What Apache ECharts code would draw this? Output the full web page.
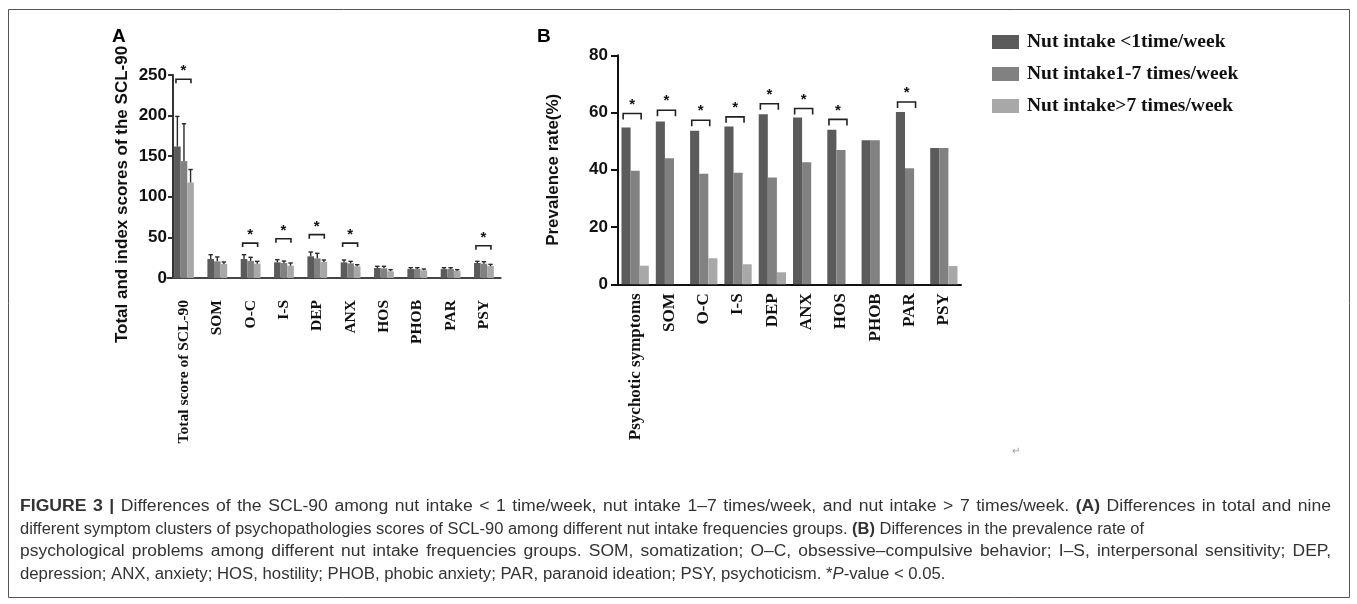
<!DOCTYPE html>
<html>
<head>
<meta charset="utf-8">
<script src="https://cdn.jsdelivr.net/npm/echarts@6/dist/echarts.min.js"></script>
<style>
html,body{margin:0;padding:0;background:#fff;}
#c{width:1357px;height:604px;}
</style>
</head>
<body>
<div id="c"></div>
<script>
// ---------- data ----------
const seriesNames = ['Nut intake <1time/week', 'Nut intake1-7 times/week', 'Nut intake>7 times/week'];

// Panel A
const catsA = ['Total score of SCL-90', 'SOM', 'O-C', 'I-S', 'DEP', 'ANX', 'HOS', 'PHOB', 'PAR', 'PSY'];
const meanA1 = [162, 23.4, 23.4, 19.3, 26.7, 19.3, 12.3, 11, 11, 18.5];
const meanA2 = [144, 20.5, 21, 18.5, 24.2, 18, 11.9, 11, 11, 17.6];
const meanA3 = [117.6, 17.2, 17.6, 15.2, 19.7, 14.4, 8.2, 9.4, 8.6, 14.8];
const sdA1 = [37, 5.3, 5.3, 3.3, 5.3, 2.9, 2.1, 1.7, 1.7, 2];
const sdA2 = [46, 5.4, 4.5, 2.4, 6.2, 2.5, 2.5, 1.7, 1.7, 2.5];
const sdA3 = [16, 2.5, 2.9, 3.3, 2.5, 2, 2.1, 1.7, 1.7, 2];
const sigA = [[0, 244.7], [2, 43], [3, 48.4], [4, 53.4], [5, 43], [9, 39.8]];
const ticksA = [0, 50, 100, 150, 200, 250];

// Panel B
const catsB = ['Psychotic symptoms', 'SOM', 'O-C', 'I-S', 'DEP', 'ANX', 'HOS', 'PHOB', 'PAR', 'PSY'];
const prevB1 = [54.8, 56.9, 53.6, 55.1, 59.4, 58.3, 54, 50.3, 60.2, 47.6];
const prevB2 = [39.7, 44, 38.6, 39, 37.3, 42.6, 46.9, 50.3, 40.5, 47.6];
const prevB3 = [6.5, 0, 9.1, 7, 4.2, 0, 0, 0, 0, 6.4];
const sigB = [[0, 59.65], [1, 60.8], [2, 57.3], [3, 58.5], [4, 63.1], [5, 61.4], [6, 57.6], [8, 63.7]];
const ticksB = [0, 20, 40, 60, 80];

const captionLines = [
  '{b|FIGURE 3 |} Differences of the SCL-90 among nut intake < 1 time/week, nut intake 1–7 times/week, and nut intake > 7 times/week. {b|(A)} Differences in total and nine',
  'different symptom clusters of psychopathologies scores of SCL-90 among different nut intake frequencies groups. {b|(B)} Differences in the prevalence rate of',
  'psychological problems among different nut intake frequencies groups. SOM, somatization; O–C, obsessive–compulsive behavior; I–S, interpersonal sensitivity; DEP,',
  'depression; ANX, anxiety; HOS, hostility; PHOB, phobic anxiety; PAR, paranoid ideation; PSY, psychoticism. *{i|P}-value < 0.05.'
];
const captionJustify = [true, false, true, false];

// ---------- styles ----------
const colors = ['#5b5b5b', '#818181', '#a8a8a8'];
const sans = 'Liberation Sans, Arial, sans-serif';
const serif = 'Liberation Serif, Times New Roman, serif';
const barWA = 6.6, barWB = 9.1;
const capX0 = 20, capX1 = 1331, capSize = 16;
const capScales = [1.10, 1.03, 1.09, 1.045];
const lineY = [507, 530, 552, 575];

function errRender(k) {
  return function (params, api) {
    const cat = api.value(0), m = api.value(1), sd = api.value(2);
    const base = api.coord([cat, m]);
    const top = api.coord([cat, m + sd]);
    const x = base[0] + (k - 1) * barWA;
    const st = { stroke: '#2a2a2a', lineWidth: 1.4 };
    return {
      type: 'group', children: [
        { type: 'line', shape: { x1: x, y1: base[1], x2: x, y2: top[1] }, style: st },
        { type: 'line', shape: { x1: x - 2.2, y1: top[1], x2: x + 2.2, y2: top[1] }, style: st }
      ]
    };
  };
}
function sigRender(x1, x2, leg, starGap, fs) {
  return function (params, api) {
    const p = api.coord([api.value(0), api.value(1)]);
    const c = p[0], y = p[1];
    return {
      type: 'group', children: [
        { type: 'polyline', shape: { points: [[c + x1, y + leg], [c + x1, y], [c + x2, y], [c + x2, y + leg]] },
          style: { stroke: '#222', lineWidth: 1.6, fill: null } },
        { type: 'text', x: c + (x1 + x2) / 2, y: y - starGap,
          style: { text: '*', font: 'bold ' + fs + 'px ' + sans, fill: '#111', align: 'center', verticalAlign: 'middle' } }
      ]
    };
  };
}

// caption layout: split each line into words (each word may contain styled runs)
const mctx = document.createElement('canvas').getContext('2d');
function runFont(st) {
  return (st === 'i' ? 'italic ' : '') + (st === 'b' ? 'bold ' : '') + capSize + 'px ' + sans;
}
function parseRuns(line) {
  const runs = []; const re = /\{([a-z])\|([^}]*)\}/g; let last = 0, m;
  while ((m = re.exec(line))) {
    if (m.index > last) runs.push({ st: 'n', t: line.slice(last, m.index) });
    runs.push({ st: m[1], t: m[2] }); last = re.lastIndex;
  }
  if (last < line.length) runs.push({ st: 'n', t: line.slice(last) });
  return runs;
}
function lineWords(line) {
  const words = [[]];
  parseRuns(line).forEach(r => {
    const parts = r.t.split(' ');
    parts.forEach((p, idx) => {
      if (idx > 0) words.push([]);
      if (p.length) words[words.length - 1].push({ st: r.st, t: p });
    });
  });
  return words.filter(w => w.length);
}
function captionGraphics() {
  const out = [];
  captionLines.forEach((line, li) => {
    const sc = capScales[li];
    mctx.font = runFont('n');
    const spaceW = mctx.measureText(' ').width * sc;
    const words = lineWords(line);
    const widths = words.map(w => w.reduce((s, r) => { mctx.font = runFont(r.st); return s + mctx.measureText(r.t).width; }, 0) * sc);
    const total = widths.reduce((a, b) => a + b, 0);
    const gap = captionJustify[li] ? (capX1 - capX0 - total) / (words.length - 1) : spaceW;
    let x = capX0;
    words.forEach((w, wi) => {
      const text = w.map(r => r.st === 'n' ? r.t : '{' + r.st + '|' + r.t + '}').join('');
      out.push({
        type: 'text', x: x, y: lineY[li], scaleX: sc, silent: true,
        style: {
          text: text, font: runFont('n'), fill: '#333', verticalAlign: 'middle', align: 'left',
          rich: {
            b: { fontWeight: 'bold', fontSize: capSize, fontFamily: sans, fill: '#333' },
            i: { fontStyle: 'italic', fontSize: capSize, fontFamily: sans, fill: '#333' }
          }
        }
      });
      x += widths[wi] + gap;
    });
  });
  return out;
}

const meansA = [meanA1, meanA2, meanA3];
const sdsA = [sdA1, sdA2, sdA3];
const prevB = [prevB1, prevB2, prevB3];

const series = [];
for (let k = 0; k < 3; k++) {
  series.push({
    name: seriesNames[k], type: 'bar', xAxisIndex: 0, yAxisIndex: 0,
    data: meansA[k], barWidth: barWA, barGap: '0%', itemStyle: { color: colors[k] }
  });
}
for (let k = 0; k < 3; k++) {
  series.push({
    name: 'err' + k, type: 'custom', xAxisIndex: 0, yAxisIndex: 0, z: 4,
    renderItem: errRender(k), encode: { x: 0, y: 1 },
    data: meansA[k].map((m, i) => [i, m, sdsA[k][i]])
  });
}
series.push({
  name: 'sigA', type: 'custom', xAxisIndex: 0, yAxisIndex: 0, z: 5,
  renderItem: sigRender(-8, 7, 4, 8, 15), encode: { x: 0, y: 1 }, data: sigA
});
for (let k = 0; k < 3; k++) {
  series.push({
    name: seriesNames[k], type: 'bar', xAxisIndex: 1, yAxisIndex: 1,
    data: prevB[k], barWidth: barWB, barGap: '0%', itemStyle: { color: colors[k] }
  });
}
series.push({
  name: 'sigB', type: 'custom', xAxisIndex: 1, yAxisIndex: 1, z: 5,
  renderItem: sigRender(-12, 6, 6, 9, 15), encode: { x: 0, y: 1 }, data: sigB
});

const graphics = [
  { type: 'rect', shape: { x: 8.5, y: 9.5, width: 1341, height: 588 }, style: { stroke: '#555', lineWidth: 1, fill: null }, silent: true },
  { type: 'text', left: 112, top: 27, style: { text: 'A', font: 'bold 19px ' + sans, fill: '#000' } },
  { type: 'text', left: 537, top: 27, style: { text: 'B', font: 'bold 19px ' + sans, fill: '#000' } },
  { type: 'text', left: 1012, top: 446, style: { text: '↵', font: '10px ' + sans, fill: '#999' } }
].concat(captionGraphics());

const option = {
  animation: false,
  backgroundColor: '#fff',
  legend: {
    data: seriesNames, orient: 'vertical', left: 987, top: 27,
    itemWidth: 27, itemHeight: 14, itemGap: 12, icon: 'rect',
    textStyle: { fontFamily: serif, fontWeight: 'bold', fontSize: 19.5, color: '#111', padding: [0, 0, 0, 3] }
  },
  grid: [
    { left: 167.3, top: 75, width: 333.3, height: 203 },
    { left: 618, top: 55.3, width: 343, height: 229 }
  ],
  xAxis: [
    {
      type: 'category', gridIndex: 0, data: catsA,
      axisLine: { lineStyle: { color: '#444', width: 2 } }, axisTick: { show: false },
      axisLabel: { rotate: 90, margin: 22, fontFamily: serif, fontWeight: 'bold', fontSize: 15.5, color: '#111', interval: 0 }
    },
    {
      type: 'category', gridIndex: 1, data: catsB,
      axisLine: { lineStyle: { color: '#111', width: 2 } }, axisTick: { show: false },
      axisLabel: { rotate: 90, margin: 9, fontFamily: serif, fontWeight: 'bold', fontSize: 17, color: '#111', interval: 0 }
    }
  ],
  yAxis: [
    {
      type: 'value', gridIndex: 0, min: ticksA[0], max: ticksA[ticksA.length - 1], interval: 50, offset: -5.7,
      name: 'Total and index scores of the SCL-90', nameLocation: 'middle', nameGap: 42,
      nameTextStyle: { fontFamily: sans, fontWeight: 'bold', fontSize: 17, color: '#111', padding: [0, 36, 0, 0] },
      axisLine: { show: true, lineStyle: { color: '#333', width: 2 } },
      axisTick: { show: true, length: 5, lineStyle: { color: '#333', width: 2 } },
      axisLabel: { margin: 6, fontFamily: sans, fontWeight: 'bold', fontSize: 17, color: '#111' },
      splitLine: { show: false }
    },
    {
      type: 'value', gridIndex: 1, min: ticksB[0], max: ticksB[ticksB.length - 1], interval: 20,
      name: 'Prevalence rate(%)', nameLocation: 'middle', nameGap: 56,
      nameTextStyle: { fontFamily: sans, fontWeight: 'bold', fontSize: 17, color: '#111' },
      axisLine: { show: true, lineStyle: { color: '#111', width: 2 } },
      axisTick: { show: true, length: 7, lineStyle: { color: '#111', width: 2 } },
      axisLabel: { margin: 10, fontFamily: sans, fontWeight: 'bold', fontSize: 17, color: '#111' },
      splitLine: { show: false }
    }
  ],
  series: series,
  graphic: graphics
};
const chart = echarts.init(document.getElementById('c'), null, { renderer: 'canvas' });
chart.setOption(option);
</script>
</body>
</html>
